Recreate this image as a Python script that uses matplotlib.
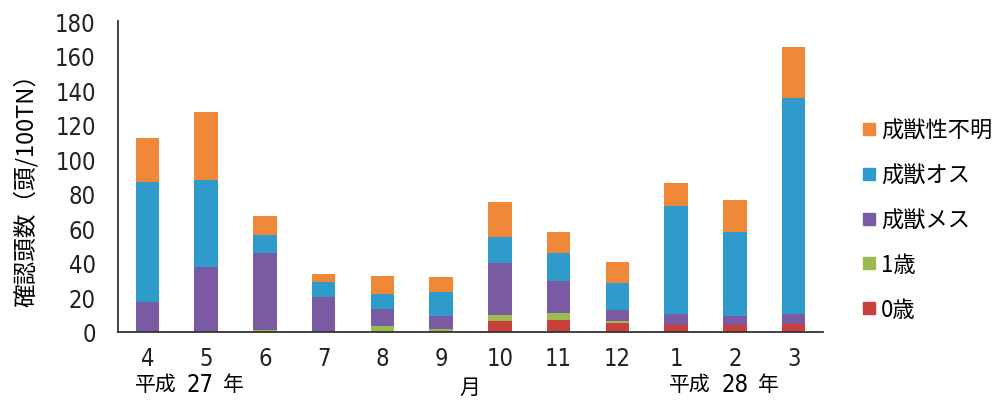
import numpy as np
import matplotlib
matplotlib.use("Agg")
import matplotlib.pyplot as plt
from matplotlib.lines import Line2D

plt.rcParams['font.family'] = ['DejaVu Sans', 'Noto Sans CJK JP']
plt.rcParams['font.stretch'] = 'condensed'

# === データ（頭/100TN） ===
months = ['4', '5', '6', '7', '8', '9', '10', '11', '12', '1', '2', '3']
age0 = [0, 0, 0, 0, 0, 0, 6.5, 6.7, 5.3, 4.2, 3.8, 4.4]
age1 = [0, 0, 1.0, 0, 3.7, 1.5, 3.2, 4.5, 1.3, 0, 0, 0]
female = [17.2, 37.4, 44.7, 20.0, 9.6, 7.9, 30.5, 18.5, 6.3, 6.0, 5.7, 5.8]
male = [69.6, 50.6, 10.3, 8.7, 8.7, 13.6, 14.9, 15.8, 15.3, 62.9, 48.5, 125.2]
unknown = [25.4, 39.5, 11.0, 4.9, 10.6, 8.6, 20.2, 12.2, 12.1, 13.1, 18.3, 29.6]

series = [
    ('0歳', age0, '#C8403C'),
    ('1歳', age1, '#9CBB4F'),
    ('成獣メス', female, '#7A5AA2'),
    ('成獣オス', male, '#2E9BCB'),
    ('成獣性不明', unknown, '#F0883A'),
]

fig = plt.figure(figsize=(10.05, 4.1), dpi=100)
ax = fig.add_axes([0.1174, 0.188, 0.7016, 0.758])

x = np.arange(len(months))
bottom = np.zeros(len(months))
for name, vals, color in series:
    vals = np.array(vals)
    ax.bar(x, vals, width=0.4, bottom=bottom, color=color, label=name)
    bottom += vals

ax.set_xlim(-0.5, len(months) - 0.5)
ax.set_ylim(0, 180)
ax.set_yticks(np.arange(0, 181, 20))
ax.set_xticks(x)
ax.set_xticklabels(months)
ax.tick_params(axis='both', length=0, labelsize=17, colors='#222222')
ax.tick_params(axis='y', pad=16)
ax.tick_params(axis='x', pad=10)
for s in ['top', 'right']:
    ax.spines[s].set_visible(False)
for s in ['left', 'bottom']:
    ax.spines[s].set_color('#333333')
    ax.spines[s].set_linewidth(1.3)

cjk = ['Noto Sans CJK JP']
ax.set_ylabel('確認頭数（頭/100TN）', fontsize=17, family=cjk)
ax.yaxis.set_label_coords(-0.114, 0.476)

# 年・月の補助ラベル
fig.text(0.134, 0.06, '平成', fontsize=15, family=cjk, va='center')
fig.text(0.186, 0.06, '27', fontsize=17, va='center')
fig.text(0.222, 0.06, '年', fontsize=15, family=cjk, va='center')
fig.text(0.468, 0.055, '月', fontsize=15, family=cjk, va='center', ha='center')
fig.text(0.666, 0.06, '平成', fontsize=15, family=cjk, va='center')
fig.text(0.718, 0.06, '28', fontsize=17, va='center')
fig.text(0.754, 0.06, '年', fontsize=15, family=cjk, va='center')

# 凡例（上から 性不明 → 0歳）
handles = [Line2D([], [], marker='s', linestyle='none', markersize=9,
                  markerfacecolor=c, markeredgecolor=c) for _, _, c in series[::-1]]
labels = [n for n, _, _ in series[::-1]]
fig.legend(handles, labels, loc='center left', bbox_to_anchor=(0.838, 0.461),
           frameon=False, prop={'family': cjk, 'size': 16},
           labelspacing=0.98, handlelength=0.6, handletextpad=0.25)

fig.savefig('out.png', dpi=100)
